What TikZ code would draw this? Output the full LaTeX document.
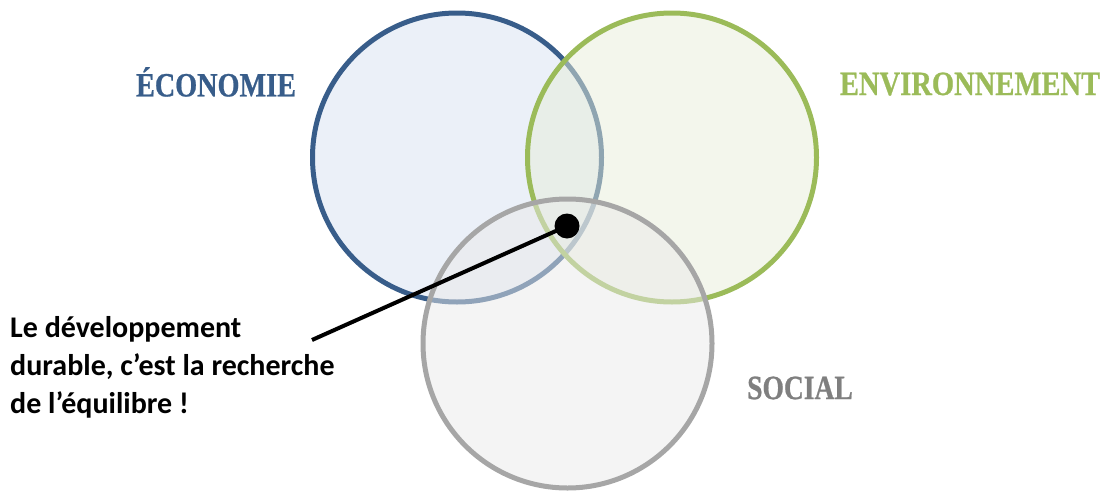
\documentclass[tikz,border=0pt]{standalone}
\usepackage{fontspec}
\setmainfont{Liberation Serif}
\newfontfamily\titlefont[BoldFeatures={FakeBold=0.8}]{Liberation Serif}
\newfontfamily\calib{Carlito}
\definecolor{econ}{HTML}{385D8A}
\definecolor{econfill}{HTML}{D7E1F1}
\definecolor{envi}{HTML}{9BBB59}
\definecolor{envifill}{HTML}{E7EDD9}
\definecolor{soc}{HTML}{A6A6A6}
\definecolor{socfill}{HTML}{E9E9E9}
\definecolor{soctext}{HTML}{7F7F7F}
\begin{document}
\begin{tikzpicture}[x=1pt,y=-1pt,
  ring/.style={circle, minimum size=289pt, inner sep=0pt, line width=5pt, fill opacity=0.5},
  title/.style={font=\titlefont\fontsize{34}{36}\selectfont\bfseries, inner sep=0pt},
  callout/.style={font=\calib\fontsize{30}{38}\selectfont\bfseries, align=left, inner sep=0pt, anchor=north west}]
\useasboundingbox (0,0) rectangle (1105,490);
\node[ring, draw=econ, fill=econfill] (eco) at (457,157.5) {};
\node[ring, draw=envi, fill=envifill] (env) at (672,157.5) {};
\node[ring, draw=soc, fill=socfill] (soci) at (567.5,343.5) {};
\node[title, text=econ] (teco) at (216,82) {\scalebox{0.83}[1]{ÉCONOMIE}};
\node[title, text=envi] (tenv) at (970,84) {\scalebox{0.84}[1]{ENVIRONNEMENT}};
\node[title, text=soctext] (tsoc) at (800,388) {\scalebox{0.81}[1]{SOCIAL}};
\node[circle, fill=black, minimum size=25pt, inner sep=0pt] (dot) at (567,226) {};
\coordinate (lend) at (312,340);
\draw[line width=4pt] (dot.center) -- (lend);
\node[callout] (txt) at (10,316) {Le développement\\durable, c’est la recherche\\de l’équilibre !};
\end{tikzpicture}
\end{document}
